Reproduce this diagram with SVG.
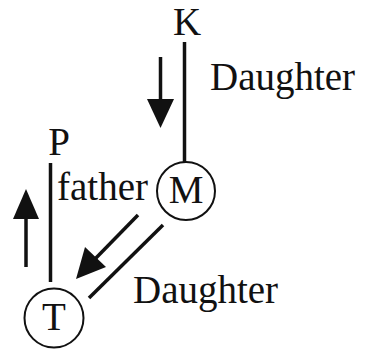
<svg xmlns="http://www.w3.org/2000/svg" width="365" height="350" viewBox="0 0 365 350">
<style>
text{font-family:"Liberation Serif","Times New Roman",serif;font-size:39px;fill:#111}
.ln{stroke:#111;stroke-width:3.5;fill:none}
.nd{stroke:#111;stroke-width:2;fill:#fff}
.ar{fill:#111}
</style>
<rect width="365" height="350" fill="#fff"/>
<g id="connectors">
<line class="ln" x1="184.5" y1="42" x2="184.5" y2="162"/>
<line class="ln" x1="50.5" y1="163" x2="50.5" y2="282"/>
<line class="ln" x1="163" y1="225" x2="89" y2="298"/>
<line class="ln" x1="160.5" y1="57" x2="160.5" y2="102"/>
<polygon class="ar" points="147,99 174,99 160.5,128"/>
<line class="ln" x1="26" y1="267" x2="26" y2="216"/>
<polygon class="ar" points="13,219 39,219 26,189"/>
<line class="ln" x1="138" y1="215" x2="95" y2="259"/>
<polygon class="ar" points="76,279 85,247 106,267"/>
</g>
<g id="K"><text x="187" y="35" text-anchor="middle">K</text></g>
<g id="P"><text x="59" y="155" text-anchor="middle">P</text></g>
<g id="M"><circle class="nd" cx="186" cy="191" r="29"/><text x="186" y="203" text-anchor="middle">M</text></g>
<g id="T"><circle class="nd" cx="54" cy="318" r="29.5"/><text x="54" y="330" text-anchor="middle">T</text></g>
<g id="labels">
<text x="210" y="90">Daughter</text>
<text x="57" y="200">father</text>
<text x="133" y="303">Daughter</text>
</g>
</svg>
